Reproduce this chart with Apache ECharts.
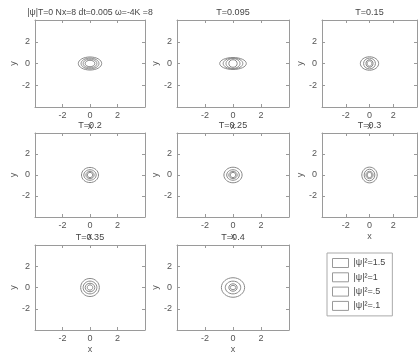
<!DOCTYPE html>
<html><head><meta charset="utf-8">
<script src="https://cdn.jsdelivr.net/npm/echarts@6/dist/echarts.min.js"></script>
<style>html,body{margin:0;padding:0;background:#fff}#c{width:420px;height:356px}</style>
</head><body><div id="c"></div>
<script>
// Panel titles
const panelTitles = ['|ψ|T=0 Nx=8 dt=0.005 ω=-4K =8','T=0.095','T=0.15','T=0.2','T=0.25','T=0.3','T=0.35','T=0.4'];
// Contour levels (|ψ|² values)
const levelNames = ['|ψ|²=1.5','|ψ|²=1','|ψ|²=.5','|ψ|²=.1'];
// Tick values shown on both axes
const tickLabels = [-2, 0, 2];
// Estimated semi-axes (x, y) of each contour per panel, levels ordered 1.5, 1, .5, .1
const rxT0    = [0.35, 0.5, 0.65, 0.85];
const ryT0    = [0.3, 0.4, 0.5, 0.6];
const rxT095  = [0.3, 0.5, 0.7, 0.95];
const ryT095  = [0.35, 0.45, 0.5, 0.55];
const rxT15   = [0.2, 0.3, 0.5, 0.77];
const ryT15   = [0.25, 0.35, 0.5, 0.62];
const rxT2    = [0.2, 0.3, 0.45, 0.62];
const ryT2    = [0.25, 0.35, 0.5, 0.72];
const rxT25   = [0.2, 0.3, 0.45, 0.65];
const ryT25   = [0.25, 0.35, 0.5, 0.74];
const rxT3    = [0.2, 0.3, 0.45, 0.65];
const ryT3    = [0.25, 0.35, 0.55, 0.75];
const rxT35   = [0.2, 0.35, 0.5, 0.68];
const ryT35   = [0.25, 0.4, 0.6, 0.85];
const rxT4    = [0.2, 0.3, 0.55, 0.83];
const ryT4    = [0.2, 0.35, 0.6, 0.92];

const rxAll = [rxT0, rxT095, rxT15, rxT2, rxT25, rxT3, rxT35, rxT4];
const ryAll = [ryT0, ryT095, ryT15, ryT2, ryT25, ryT3, ryT35, ryT4];

const colLeft = [35, 177, 322];
const colWidth = [110, 112, 111];
const rowTop = [20, 133, 245];
const rowHeight = [87, 84, 85];

const FONT = 'Liberation Sans, Arial, sans-serif';
const TXT = '#555';
const AX = '#9a9a9a';

const grids = [], xAxes = [], yAxes = [], series = [];
for (let p = 0; p < 8; p++) {
  const r = Math.floor(p / 3), c = p % 3;
  grids.push({left: colLeft[c], top: rowTop[r], width: colWidth[c], height: rowHeight[r], containLabel: false});
  const lbl = {show: true, fontSize: 9, color: TXT, fontFamily: FONT,
    formatter: v => (tickLabels.indexOf(v) >= 0 ? String(v) : '')};
  const tick = {show: true, inside: true, length: 3, lineStyle: {color: AX, width: 1}};
  const line = {show: true, onZero: false, lineStyle: {color: AX, width: 1}};
  const base = {type: 'value', min: -4, max: 4, interval: 2, gridIndex: p, splitLine: {show: false}, axisLine: line, axisTick: tick};
  xAxes.push(Object.assign({}, base, {position: 'bottom', name: 'x', nameLocation: 'middle', nameGap: 15,
    nameTextStyle: {fontSize: 9, color: TXT, fontFamily: FONT}, axisLabel: Object.assign({}, lbl, {margin: 4})}));
  xAxes.push(Object.assign({}, base, {position: 'top', name: panelTitles[p], nameLocation: 'middle', nameGap: 3,
    nameTextStyle: {fontSize: p === 0 ? 8.7 : 9, color: '#444', fontFamily: FONT}, axisLabel: {show: false}}));
  yAxes.push(Object.assign({}, base, {position: 'left', name: 'y', nameLocation: 'middle', nameGap: 16, nameRotate: 90,
    nameTextStyle: {fontSize: 9, color: TXT, fontFamily: FONT}, axisLabel: Object.assign({}, lbl, {margin: 5})}));
  yAxes.push(Object.assign({}, base, {position: 'right', axisLabel: {show: false}}));
  for (let k = 0; k < levelNames.length; k++) {
    series.push({
      type: 'custom', name: levelNames[k], xAxisIndex: 2 * p, yAxisIndex: 2 * p,
      coordinateSystem: 'cartesian2d', silent: true, clip: true,
      itemStyle: {color: '#888'},
      data: [[rxAll[p][k], ryAll[p][k]]],
      encode: {x: 0, y: 1},
      renderItem: function (params, api) {
        const rx = api.value(0), ry = api.value(1);
        const c0 = api.coord([0, 0]);
        const s = api.size([rx, ry]);
        return {type: 'ellipse', shape: {cx: c0[0], cy: c0[1], rx: s[0], ry: s[1]},
          style: {fill: 'none', stroke: '#8a8a8a', lineWidth: 1}};
      }
    });
  }
}

const chart = echarts.init(document.getElementById('c'), null, {renderer: 'canvas'});
chart.setOption({
  animation: false,
  backgroundColor: '#fff',
  grid: grids, xAxis: xAxes, yAxis: yAxes, series: series,
  legend: {
    data: levelNames.map(n => ({name: n, icon: 'rect', itemStyle: {color: '#fff', borderColor: '#999', borderWidth: 1}})),
    orient: 'vertical', left: 327, top: 253, itemWidth: 16, itemHeight: 9, itemGap: 4.3,
    padding: [5, 7, 5, 5], borderColor: '#aaa', borderWidth: 1, selectedMode: false,
    textStyle: {fontSize: 9, color: '#444', fontFamily: FONT, padding: [0, 0, 0, 0]}
  }
});
</script></body></html>
